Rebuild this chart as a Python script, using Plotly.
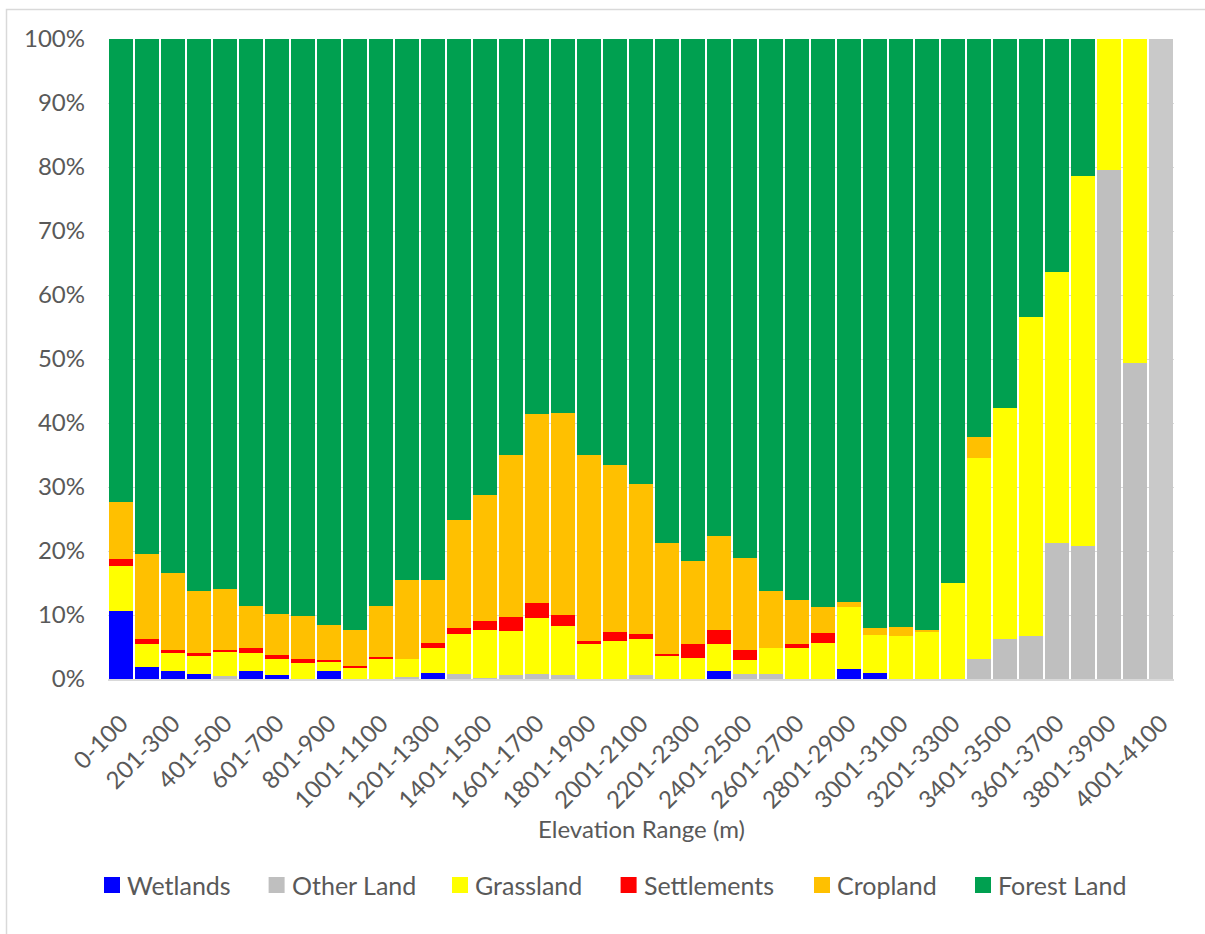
import plotly.graph_objects as go

# Elevation bands (m)
categories = [f"{0 if i == 0 else i * 100 + 1}-{(i + 1) * 100}" for i in range(41)]
tick_labels = categories[::2]

# Land-use share per elevation band (%), stacked bottom to top
wetlands = [10.6, 1.8, 1.2, 0.8, 0, 1.2, 0.6, 0, 1.2, 0, 0, 0, 0.9, 0, 0, 0, 0, 0, 0, 0,
            0, 0, 0, 1.2, 0, 0, 0, 0, 1.6, 1.0, 0, 0, 0, 0, 0, 0, 0, 0, 0, 0, 0]
other_land = [0, 0, 0, 0, 0.5, 0, 0, 0, 0, 0, 0, 0.3, 0, 0.8, 0.2, 0.6, 0.8, 0.6, 0, 0,
              0.6, 0, 0, 0, 0.8, 0.8, 0, 0, 0, 0, 0, 0, 0, 3.1, 6.2, 6.7, 21.2, 20.8, 79.6, 49.4, 100]
grassland = [7.1, 3.6, 2.8, 2.9, 3.8, 2.9, 2.5, 2.5, 1.5, 1.8, 3.1, 2.9, 3.9, 6.3, 7.4, 6.9, 8.8, 7.7, 5.4, 6.0,
             5.6, 3.7, 3.3, 4.2, 2.1, 4.0, 4.9, 5.6, 9.6, 5.9, 6.7, 7.3, 15.0, 31.5, 36.1, 49.8, 42.4, 57.8, 20.4, 50.6, 0]
settlements = [1.0, 0.9, 0.6, 0.3, 0.3, 0.8, 0.6, 0.6, 0.2, 0.3, 0.4, 0, 0.8, 0.8, 1.5, 2.2, 2.2, 1.7, 0.6, 1.4,
               0.8, 0.2, 2.1, 2.3, 1.7, 0, 0.6, 1.6, 0, 0, 0, 0, 0, 0, 0, 0, 0, 0, 0, 0, 0]
cropland = [9.0, 13.3, 11.9, 9.8, 9.4, 6.5, 6.5, 6.7, 5.6, 5.6, 7.9, 12.2, 9.8, 16.9, 19.6, 25.3, 29.6, 31.6, 29.0, 26.1,
            23.4, 17.3, 13.1, 14.6, 14.3, 8.9, 6.9, 4.0, 0.9, 1.0, 1.4, 0.4, 0, 3.2, 0, 0, 0, 0, 0, 0, 0]
forest_land = [72.3, 80.4, 83.5, 86.2, 86.0, 88.6, 89.8, 90.2, 91.5, 92.3, 88.6, 84.6, 84.6, 75.2, 71.3, 65.0, 58.6, 58.4, 65.0, 66.5,
               69.6, 78.8, 81.5, 77.7, 81.1, 86.3, 87.6, 88.8, 87.9, 92.1, 91.9, 92.3, 85.0, 62.2, 57.7, 43.5, 36.4, 21.4, 0, 0, 0]

series_names = ["Wetlands", "Other Land", "Grassland", "Settlements", "Cropland", "Forest Land"]
series_values = [wetlands, other_land, grassland, settlements, cropland, forest_land]
series_colors = ["#0000FF", "#BFBFBF", "#FFFF00", "#FF0000", "#FFC000", "#00A050"]

FONT = "Lato"
TEXT_COLOR = "#595959"
W, H = 1205, 934
L, R, T, B = 108, 31, 39, 255
PW, PH = W - L - R, H - T - B


def px_x(px):
    return (px - L) / PW


def px_y(py):
    return (H - B - py) / PH


fig = go.Figure()
for name, vals, color in zip(series_names, series_values, series_colors):
    bar_colors = color
    if name == "Other Land":
        # the last band is shown in a slightly lighter grey
        bar_colors = [color] * (len(categories) - 1) + ["#C9C9C9"]
    fig.add_trace(go.Bar(
        x=categories, y=vals, name=name,
        marker=dict(color=bar_colors, line=dict(width=0)),
        showlegend=False,
    ))

# Legend row drawn beneath the axis title
legend_swatch_px = [104, 268.6, 452, 620.6, 814, 975]
legend_y_px = 885
shapes = []
annotations = []
for name, color, sx in zip(series_names, series_colors, legend_swatch_px):
    shapes.append(dict(type="rect", xref="paper", yref="paper",
                       x0=px_x(sx), x1=px_x(sx + 16),
                       y0=px_y(legend_y_px + 8), y1=px_y(legend_y_px - 8),
                       fillcolor=color, line=dict(width=0)))
    annotations.append(dict(text=name, xref="paper", yref="paper",
                            x=px_x(sx + 21), y=px_y(legend_y_px),
                            xanchor="left", yanchor="middle", showarrow=False,
                            font=dict(family=FONT, size=25, color=TEXT_COLOR)))

# Axis title
annotations.append(dict(text="Elevation Range (m)", xref="paper", yref="paper",
                        x=0.5, y=px_y(828), xanchor="center", yanchor="middle",
                        showarrow=False, font=dict(family=FONT, size=24, color=TEXT_COLOR)))

# Chart-area frame
shapes.append(dict(type="rect", xref="paper", yref="paper",
                   x0=px_x(6.5), x1=px_x(1215), y0=px_y(945), y1=px_y(9.5),
                   line=dict(color="#D9D9D9", width=1.5), fillcolor="rgba(0,0,0,0)", layer="below"))

fig.update_layout(
    width=W, height=H,
    margin=dict(l=L, r=R, t=T, b=B, autoexpand=False),
    barmode="stack", bargap=0.1,
    plot_bgcolor="white", paper_bgcolor="white",
    font=dict(family=FONT, size=24, color=TEXT_COLOR),
    shapes=shapes, annotations=annotations,
    showlegend=False,
)
fig.update_xaxes(
    type="category", tickmode="array", tickvals=tick_labels, ticktext=tick_labels,
    tickangle=-45, showgrid=False, showline=True, linecolor="#D9D9D9", linewidth=1.5,
    ticks="", tickfont=dict(family=FONT, size=24, color=TEXT_COLOR), automargin=False,
    ticklabelstandoff=19,
)
fig.update_yaxes(
    range=[0, 100], dtick=10, ticksuffix="%", showgrid=True, gridcolor="#D9D9D9",
    gridwidth=1.3, zeroline=False, showline=False, ticks="",
    tickfont=dict(family=FONT, size=24, color=TEXT_COLOR), automargin=False,
    ticklabelstandoff=22,
)

fig.write_html("out.html")
